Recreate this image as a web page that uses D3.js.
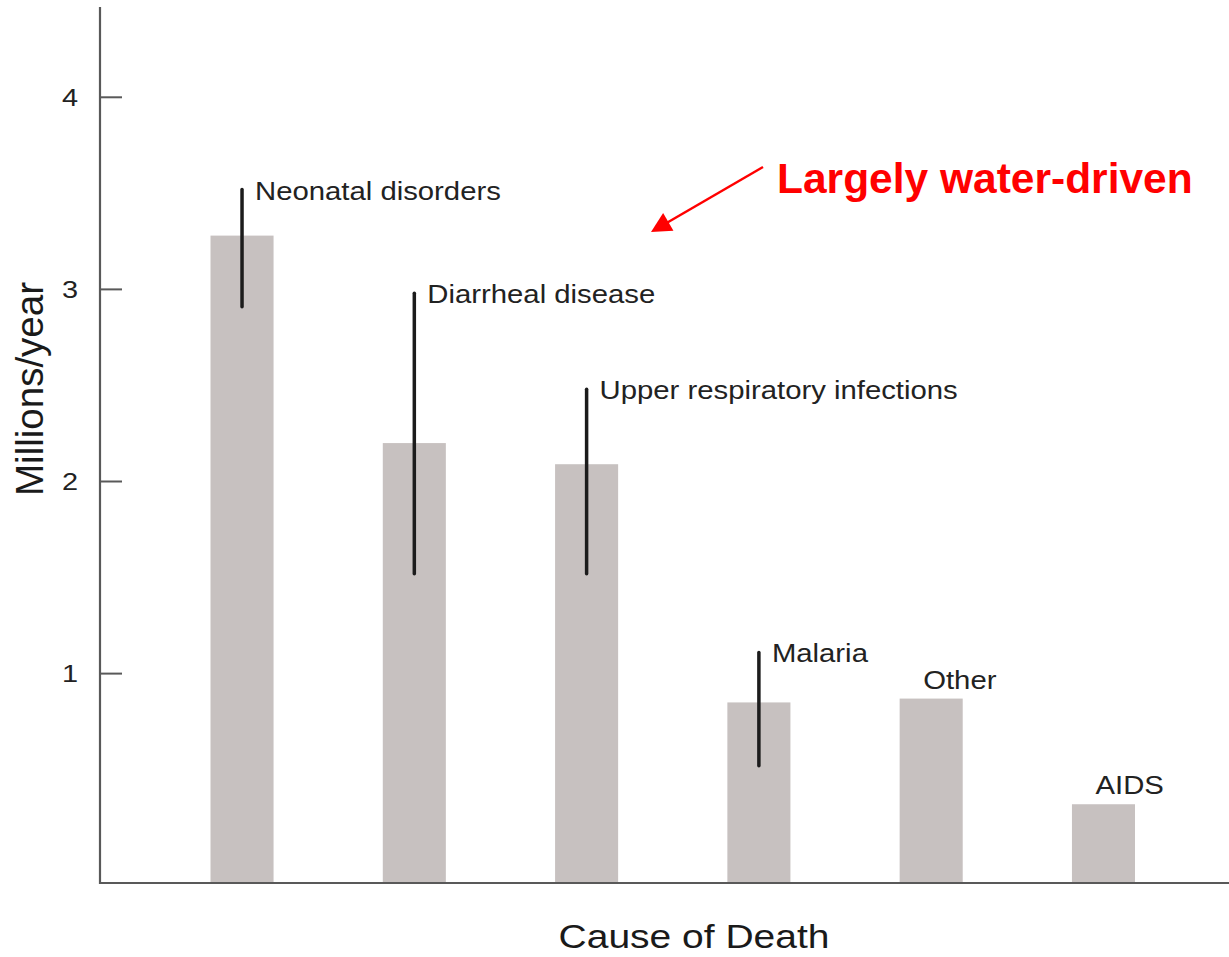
<!DOCTYPE html>
<html>
<head>
<meta charset="utf-8">
<script src="https://cdn.jsdelivr.net/npm/d3@7"></script>
<style>
  html, body { margin: 0; padding: 0; background: #ffffff; }
  svg { display: block; }
  text { font-family: "Liberation Sans", Arial, Helvetica, sans-serif; }
</style>
</head>
<body>
<svg id="chart" width="1229" height="957"></svg>
<script>
// ---- data ----
const categories = ["Neonatal disorders", "Diarrheal disease", "Upper respiratory infections", "Malaria", "Other", "AIDS"];
const deaths = [3.28, 2.20, 2.09, 0.85, 0.87, 0.32];          // millions / year
const rangeLow = [2.91, 1.52, 1.52, 0.52, null, null];
const rangeHigh = [3.52, 2.98, 2.48, 1.11, null, null];
const yTicks = [1, 2, 3, 4];
const yTickLabels = ["1", "2", "3", "4"];
const yAxisTitle = "Millions/year";
const xAxisTitle = "Cause of Death";
const annotationText = "Largely water-driven";

// ---- layout ----
const W = 1229, H = 957;
const axisX = 100, baseY = 883, topY = 7;

const svg = d3.select("#chart");

const y = d3.scaleLinear().domain([-0.09, 4.47]).range([baseY, topY]);
const x = d3.scaleBand().domain(categories).range([210.5, 1135]).paddingInner(0.634).paddingOuter(0);

const rows = categories.map((c, i) => ({ cat: c, v: deaths[i], lo: rangeLow[i], hi: rangeHigh[i] }));

const labelSize = 26.5, labelSx = 29.3 / labelSize;  // horizontally stretched labels

function stretchedText(parent, tx, ty, str, size, sx, opts = {}) {
  const g = parent.append("g").attr("transform", `translate(${tx},${ty})`);
  const t = g.append("text")
    .attr("transform", `scale(${sx},1)`)
    .attr("font-size", size)
    .attr("fill", opts.fill || "#222")
    .attr("text-anchor", opts.anchor || "start")
    .attr("font-weight", opts.weight || "normal")
    .text(str);
  return g;
}

// bars
svg.append("g").selectAll("rect").data(rows).join("rect")
  .attr("x", d => x(d.cat))
  .attr("y", d => y(d.v))
  .attr("width", x.bandwidth())
  .attr("height", d => baseY - y(d.v))
  .attr("fill", "#c7c1c0");

// range lines
svg.append("g").selectAll("line").data(rows.filter(d => d.lo !== null)).join("line")
  .attr("x1", d => x(d.cat) + x.bandwidth() / 2)
  .attr("x2", d => x(d.cat) + x.bandwidth() / 2)
  .attr("y1", d => y(d.hi))
  .attr("y2", d => y(d.lo))
  .attr("stroke", "#1c1c1c")
  .attr("stroke-width", 3.5)
  .attr("stroke-linecap", "round");

// category labels
const lg = svg.append("g");
rows.forEach(d => {
  const cx = x(d.cat) + x.bandwidth() / 2;
  if (d.hi !== null) {
    stretchedText(lg, cx + 13, y(d.hi) + 10, d.cat, labelSize, labelSx);
  } else {
    stretchedText(lg, cx - 8, y(d.v) - 10, d.cat, labelSize, labelSx);
  }
});

// axes
const axisColor = "#595959";
svg.append("line").attr("x1", axisX).attr("x2", axisX).attr("y1", topY).attr("y2", baseY + 1)
  .attr("stroke", axisColor).attr("stroke-width", 2.2);
svg.append("line").attr("x1", axisX - 1).attr("x2", W).attr("y1", baseY).attr("y2", baseY)
  .attr("stroke", axisColor).attr("stroke-width", 2.2);

const tg = svg.append("g");
yTicks.forEach((t, i) => {
  tg.append("line").attr("x1", axisX).attr("x2", axisX + 22).attr("y1", y(t)).attr("y2", y(t))
    .attr("stroke", axisColor).attr("stroke-width", 2);
  stretchedText(tg, 78, y(t) + 8.5, yTickLabels[i], 24.5, 1.18, { anchor: "end" });
});

// axis titles
svg.append("text")
  .attr("transform", `translate(43,389) rotate(-90)`)
  .attr("text-anchor", "middle")
  .attr("font-size", 38.5)
  .attr("fill", "#1a1a1a")
  .text(yAxisTitle);

stretchedText(svg, 694, 948, xAxisTitle, 32.5, 1.2, { anchor: "middle", fill: "#1a1a1a" });

// annotation
svg.append("text")
  .attr("x", 777).attr("y", 193)
  .attr("font-size", 42.5)
  .attr("font-weight", "bold")
  .attr("fill", "#ff0000")
  .text(annotationText);

const a0 = [763, 167], a1 = [651, 232];
const dx = a1[0] - a0[0], dy = a1[1] - a0[1], len = Math.hypot(dx, dy);
const ux = dx / len, uy = dy / len, headLen = 20, headHalf = 10.3;
const bx = a1[0] - ux * headLen, by = a1[1] - uy * headLen;
svg.append("line").attr("x1", a0[0]).attr("y1", a0[1]).attr("x2", bx + ux * 2).attr("y2", by + uy * 2)
  .attr("stroke", "#ff0000").attr("stroke-width", 2.5);
svg.append("path")
  .attr("d", `M${a1[0]},${a1[1]} L${bx - uy * headHalf},${by + ux * headHalf} L${bx + uy * headHalf},${by - ux * headHalf} Z`)
  .attr("fill", "#ff0000");
</script>
</body>
</html>
